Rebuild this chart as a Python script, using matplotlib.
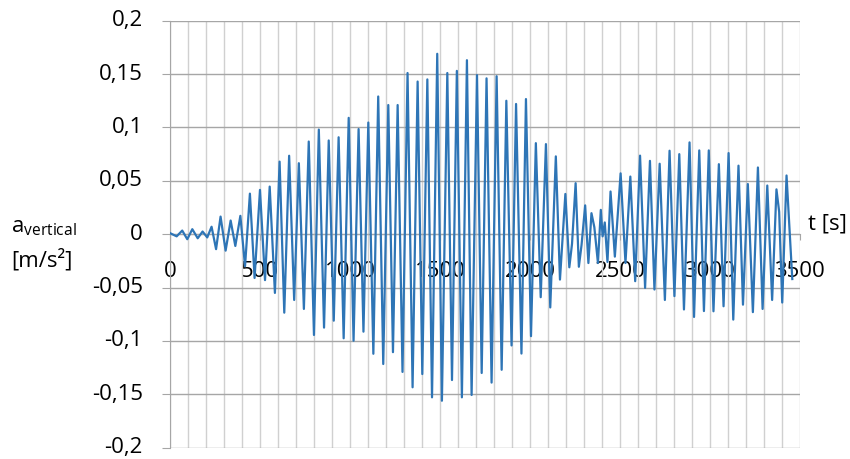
import matplotlib
matplotlib.use("Agg")
import matplotlib.pyplot as plt
from matplotlib.ticker import MultipleLocator

plt.rcParams["font.family"] = ["Open Sans", "DejaVu Sans"]
plt.rcParams["mathtext.fontset"] = "custom"
plt.rcParams["mathtext.rm"] = "Open Sans"

# extrema of the signal (time in s, acceleration in m/s2)
t = [0, 37, 68, 96, 124, 154, 181, 207, 231, 256, 281, 309, 337, 363, 391,
     417, 444, 470, 500, 528, 554, 583, 609, 635, 662, 690, 716, 744, 771,
     800, 827, 856, 882, 910, 937, 965, 993, 1020, 1048, 1075, 1102, 1130,
     1157, 1185, 1213, 1239, 1265, 1292, 1320, 1348, 1376, 1402, 1430, 1456,
     1485, 1511, 1541, 1567, 1594, 1622, 1650, 1676, 1706, 1732, 1759, 1787,
     1815, 1843, 1869, 1898, 1923, 1953, 1978, 2006, 2033, 2060, 2089, 2113,
     2144, 2167, 2197, 2219, 2234, 2254, 2272, 2287, 2307, 2325, 2342, 2358,
     2378, 2394, 2404, 2416, 2431, 2448, 2472, 2504, 2531, 2558, 2585, 2612,
     2640, 2667, 2692, 2721, 2750, 2776, 2803, 2830, 2856, 2887, 2912, 2941,
     2967, 2994, 3020, 3050, 3076, 3104, 3130, 3159, 3184, 3211, 3239, 3267,
     3293, 3319, 3346, 3370, 3385, 3402, 3426, 3458]
a = [0.001, -0.002, 0.0034, -0.0047, 0.0047, -0.0038, 0.0025, -0.003, 0.007,
     -0.014, 0.0165, -0.0154, 0.0128, -0.011, 0.0172,
     -0.030, 0.038, -0.041, 0.0415, -0.043, 0.0446, -0.055, 0.068, -0.0735,
     0.0735, -0.0616, 0.0665, -0.070, 0.0868,
     -0.0944, 0.098, -0.0875, 0.0878, -0.081, 0.0908, -0.0975, 0.109,
     -0.0998, 0.0985, -0.0913, 0.1046, -0.112,
     0.129, -0.1216, 0.121, -0.1105, 0.121, -0.129, 0.151, -0.1434, 0.143,
     -0.131, 0.145, -0.1528,
     0.169, -0.156, 0.151, -0.1366, 0.153, -0.1528, 0.163, -0.1506, 0.149,
     -0.130, 0.146, -0.139,
     0.148, -0.127, 0.125, -0.1042, 0.122, -0.1118, 0.1266, -0.0955, 0.0853,
     -0.059, 0.0844, -0.0686,
     0.0729, -0.0425, 0.0377, -0.031, -0.009, 0.0478, -0.0305, -0.010, 0.027,
     -0.027, 0.0197, 0.0066,
     -0.027, 0.0228, -0.002, 0.011, -0.026, 0.040, -0.021, 0.057, -0.027,
     0.054, -0.044, 0.0736,
     -0.0503, 0.0687, -0.0518, 0.066, -0.0616, 0.0782, -0.058, 0.075, -0.0705,
     0.086, -0.0775, 0.0785,
     -0.072, 0.0785, -0.0722, 0.0656, -0.0675, 0.076, -0.080, 0.0642, -0.066,
     0.047, -0.073, 0.0625,
     -0.070, 0.0456, -0.0616, 0.042, 0.021, -0.064, 0.055, -0.042]

xticks = [0, 500, 1000, 1500, 2000, 2500, 3000, 3500]
xtick_labels = ["0", "500", "1000", "1500", "2000", "2500", "3000", "3500"]
yticks = [-0.2, -0.15, -0.1, -0.05, 0, 0.05, 0.1, 0.15, 0.2]
ytick_labels = ["-0,2", "-0,15", "-0,1", "-0,05", "0", "0,05", "0,1", "0,15", "0,2"]

fig = plt.figure(figsize=(8.5, 4.59), dpi=100)
ax = fig.add_axes([0.2, 0.0246, 0.741, 0.9303])

ax.plot(t, a, color="#2E75B6", lw=1.6, solid_joinstyle="round", zorder=3)

ax.set_xlim(0, 3500)
ax.set_ylim(-0.2, 0.2)
ax.set_xticks(xticks)
ax.set_xticklabels(xtick_labels)
ax.set_yticks(yticks)
ax.set_yticklabels(ytick_labels, va="center")
ax.xaxis.set_minor_locator(MultipleLocator(100))

ax.grid(True, which="major", axis="y", color="#a6a6a6", lw=1)
ax.grid(True, which="minor", axis="x", color="#d0d0d0", lw=1)
ax.grid(True, which="major", axis="x", color="#d0d0d0", lw=1)

for s in ["top", "right"]:
    ax.spines[s].set_visible(False)
ax.spines["left"].set_color("#a6a6a6")
ax.spines["bottom"].set_color("#a6a6a6")
ax.spines["bottom"].set_position(("data", 0))
ax.set_axisbelow(True)

ax.tick_params(axis="y", length=6, color="#a6a6a6", pad=13.5, labelsize=16)
ax.tick_params(axis="x", which="major", length=4, color="#a6a6a6", pad=15,
               labelsize=16)
ax.tick_params(axis="x", which="minor", length=0)

fig.text(11 / 850, 1 - 232 / 459, r"a$_{\mathrm{vertical}}$", fontsize=16,
         va="baseline", ha="left")
fig.text(11 / 850, 1 - 266 / 459, "[m/s²]", fontsize=16, va="baseline",
         ha="left")
fig.text(808 / 850, 1 - 230 / 459, "t [s]", fontsize=16, va="baseline",
         ha="left")

fig.savefig("out.png", dpi=100)
